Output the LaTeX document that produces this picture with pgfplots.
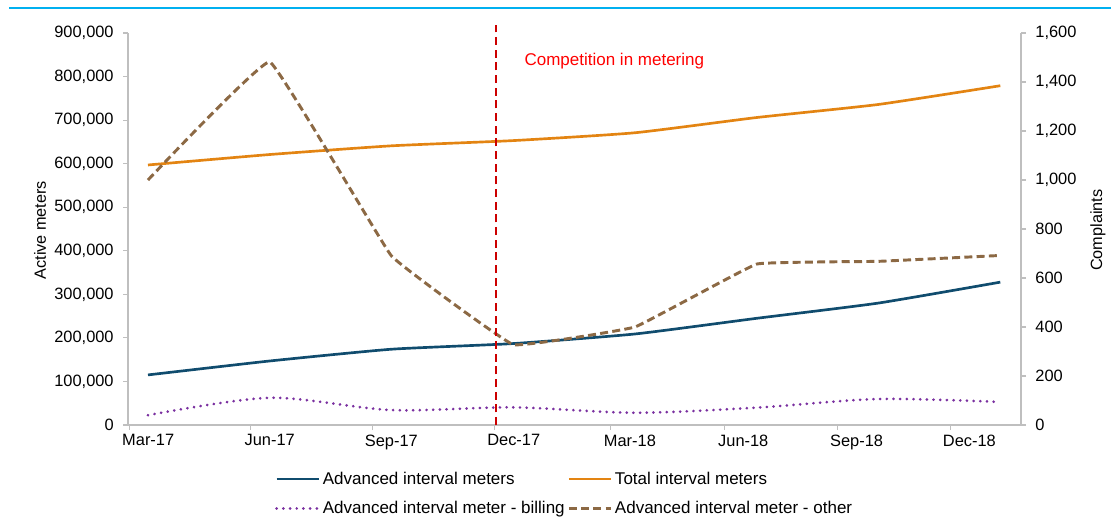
\documentclass[border=0pt]{standalone}
\usepackage{pgfplots}
\pgfplotsset{compat=1.18}
\usepackage{fontspec}
\setmainfont{Liberation Sans}
\definecolor{cOrange}{RGB}{227,132,18}
\definecolor{cBlue}{RGB}{16,76,110}
\definecolor{cBrown}{RGB}{140,105,68}
\definecolor{cPurple}{RGB}{122,48,160}
\definecolor{cAxis}{RGB}{191,191,191}
\definecolor{cTop}{RGB}{0,176,240}
\definecolor{cRedLine}{RGB}{204,0,0}
\definecolor{cRedText}{RGB}{255,0,0}
\pgfplotsset{
  common/.style={
    scale only axis, width=669.75pt, height=294pt,
    at={(96pt,70.5pt)}, anchor=south west,
    xmin=-0.164, xmax=7.17, ymin=0,
    axis line style={cAxis, line width=0.8pt, -},
    tick style={cAxis, line width=0.8pt},
    tick align=outside, major tick length=3.75pt,
    ticklabel style={font=\fontsize{12.3}{14}\selectfont, text=black},
    /pgf/number format/fixed,
    /pgf/number format/precision=0,
    /pgf/number format/1000 sep={,},
    /pgf/number format/assume math mode=true,
  }
}
\begin{document}
\begin{tikzpicture}
\useasboundingbox (0,0) rectangle (833.25pt,389.25pt);
\draw[cTop, line width=1.1pt] (6.75pt,383.25pt) -- (833.25pt,383.25pt);
\begin{axis}[common, ymax=900000, ytick distance=100000, scaled y ticks=false,
  axis y line*=left, axis x line*=bottom,
  xtick={-0.154,0.844,1.843,2.848,3.802,4.733,5.664,6.590},
  xticklabels={Mar-17,Jun-17,Sep-17,Dec-17,Mar-18,Jun-18,Sep-18,Dec-18},
  xticklabel style={xshift=14.25pt},
  yticklabel style={xshift=-3.5pt},
  ylabel={Active meters},
  ylabel style={at={(axis description cs:-0.0985,0.497)}, anchor=center, font=\fontsize{12.2}{14}\selectfont},
  legend columns=2,
  legend cell align=left,
  legend image code/.code={\draw[#1] (0pt,0pt) -- (31.5pt,0pt);},
  legend style={at={(axis description cs:0.1601,-0.105)}, anchor=north west, draw=none, fill=none,
    font=\fontsize{12.75}{15}\selectfont, row sep=7.5pt,
    /tikz/every even column/.append style={column sep=0pt}},
]
\addplot[cBlue, line width=2pt, smooth, tension=0.3] coordinates {(0,115000) (1,147000) (2,174000) (3,187000) (4,209000) (5,245000) (6,280000) (7,328000)};
\addlegendentry{Advanced interval meters}
\addplot[cOrange, line width=2pt, smooth, tension=0.3] coordinates {(0,597000) (1,621000) (2,641000) (3,653000) (4,671000) (5,706000) (6,736000) (7,779000)};
\addlegendentry{Total interval meters}
\addlegendimage{cPurple, line width=2.2pt, line cap=round, dash pattern=on 0.01pt off 5pt}
\addlegendentry{Advanced interval meter - billing}
\addlegendimage{cBrown, line width=2.2pt, dash pattern=on 6pt off 3.2pt}
\addlegendentry{Advanced interval meter - other}
\end{axis}
\begin{axis}[common, ymax=1600, ytick distance=200,
  axis y line*=right, axis x line=none,
  yticklabel style={xshift=3.5pt},
  ylabel={Complaints},
  ylabel style={at={(axis description cs:1.0862,0.497)}, anchor=center, font=\fontsize{12.2}{14}\selectfont},
  clip=false,
]
\addplot[cPurple, line width=2.2pt, line cap=round, dash pattern=on 0.01pt off 5pt, smooth, tension=0.5] coordinates {(0,40) (1,111) (2,61) (3,72) (4,50) (5,71) (6,106) (7,94)};
\addplot[cBrown, line width=2.2pt, dash pattern=on 6pt off 3.2pt, smooth, tension=0.12] coordinates {(0,1000) (1,1482) (2,690) (3,328) (4,400) (5,657) (6,668) (7,692)};
\draw[cRedLine, line width=1.6pt, dash pattern=on 6pt off 3.5pt] (axis cs:2.855,0) -- (axis cs:2.855,1633);
\node[anchor=base west, text=cRedText, font=\fontsize{12.75}{15}\selectfont, inner sep=0pt] at (rel axis cs:0.4438,0.918) {Competition in metering};
\end{axis}
\end{tikzpicture}
\end{document}
